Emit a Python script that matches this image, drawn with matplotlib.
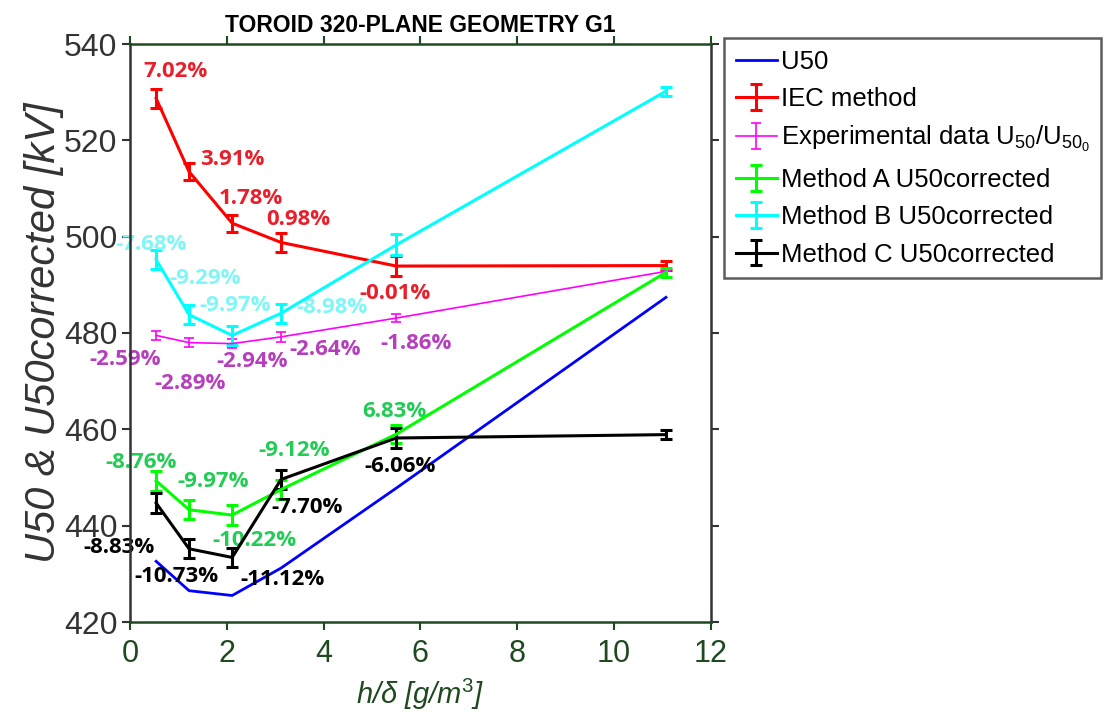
import matplotlib
matplotlib.use("Agg")
import matplotlib.pyplot as plt
from matplotlib import font_manager

# ---------------- data ----------------
x = [0.54, 1.22, 2.11, 3.12, 5.50, 11.07]

u50 = [432.6, 426.5, 425.5, 431.2, 447.8, 487.4]

iec = [528.7, 513.5, 502.8, 498.8, 493.9, 494.0]
iec_err = [2.0, 1.8, 1.8, 2.0, 2.0, 1.0]

exp_data = [479.5, 478.0, 477.8, 479.2, 483.1, 492.8]
exp_err = [1.0, 0.9, 1.0, 1.0, 0.8, 0.0]

meth_a = [449.3, 443.3, 442.2, 447.5, 459.0, 492.6]
meth_a_err = [2.0, 2.0, 2.0, 2.0, 1.8, 0.9]

meth_b = [495.2, 483.8, 479.5, 484.1, 498.3, 530.2]
meth_b_err = [2.0, 2.0, 2.0, 2.0, 2.2, 0.9]

meth_c = [444.7, 435.2, 433.4, 449.6, 458.2, 458.9]
meth_c_err = [2.0, 2.0, 2.0, 2.0, 2.0, 0.9]

iec_labels = ["7.02%", "3.91%", "1.78%", "0.98%", "-0.01%"]
b_labels = ["-7.68%", "-9.29%", "-9.97%", "-8.98%"]
exp_labels = ["-2.59%", "-2.89%", "-2.94%", "-2.64%", "-1.86%"]
a_labels = ["-8.76%", "-9.97%", "-10.22%", "-9.12%", "6.83%"]
c_labels = ["-8.83%", "-10.73%", "-11.12%", "-7.70%", "-6.06%"]

# label anchor positions (data coordinates, text centre)
iec_lpos = [(0.93, 534.2), (2.11, 516.1), (2.50, 508.0), (3.47, 503.5), (5.47, 488.3)]
b_lpos = [(0.43, 498.3), (1.55, 491.4), (2.17, 485.8), (4.17, 485.2)]
exp_lpos = [(-0.10, 474.4), (1.24, 469.6), (2.52, 474.0), (4.03, 476.5), (5.91, 477.9)]
a_lpos = [(0.23, 453.2), (1.71, 449.1), (2.58, 437.0), (3.39, 455.7), (5.47, 463.6)]
c_lpos = [(-0.23, 435.4), (0.95, 429.4), (3.14, 428.9), (3.66, 443.7), (5.58, 452.2)]

xticks = [0, 2, 4, 6, 8, 10, 12]
yticks = [420, 440, 460, 480, 500, 520, 540]

# ---------------- fonts ----------------
avail = {f.name for f in font_manager.fontManager.ttflist}
narrow = "Liberation Sans Narrow" if "Liberation Sans Narrow" in avail else "Liberation Sans"
plt.rcParams["font.family"] = ["Liberation Sans", "DejaVu Sans"]
plt.rcParams["mathtext.fontset"] = "custom"
plt.rcParams["mathtext.rm"] = "Liberation Sans"
plt.rcParams["mathtext.it"] = "Liberation Sans:italic"

GREEN_AX = "#1f4a1f"
GREY_AX = "#333333"

fig = plt.figure(figsize=(11.12, 7.2), dpi=100)
ax = fig.add_axes([130 / 1112, 1 - 622 / 720, (711 - 130) / 1112, (622 - 44) / 720])

lw = 2.2
cap = 4
h_u50, = ax.plot(x, u50, color="#0000ff", lw=2.0, label="U50")
h_iec = ax.errorbar(x, iec, yerr=iec_err, color="#ff0000", lw=lw, elinewidth=2.2,
                    capsize=cap, capthick=2.2, label="IEC method")
h_exp = ax.errorbar(x, exp_data, yerr=exp_err, color="#ff00ff", lw=1.2, elinewidth=1.2,
                    capsize=3.5, capthick=1.2,
                    label=r"Experimental data U$_{50}$/U$_{50_0}$")
h_a = ax.errorbar(x, meth_a, yerr=meth_a_err, color="#00ff00", lw=lw, elinewidth=2.2,
                  capsize=cap, capthick=2.2, label="Method A U50corrected")
h_b = ax.errorbar(x, meth_b, yerr=meth_b_err, color="#00ffff", lw=lw, elinewidth=2.2,
                  capsize=cap, capthick=2.2, label="Method B U50corrected")
h_c = ax.errorbar(x, meth_c, yerr=meth_c_err, color="#000000", lw=lw, elinewidth=2.2,
                  capsize=cap, capthick=2.2, label="Method C U50corrected")

ann_font = dict(family=["Open Sans", "DejaVu Sans"], fontweight="bold", fontsize=16,
                ha="center", va="center", zorder=2, clip_on=False)
for labels, pos, col in [(iec_labels, iec_lpos, "#e8202c"),
                         (b_labels, b_lpos, "#80f6f6"),
                         (exp_labels, exp_lpos, "#b640bc"),
                         (a_labels, a_lpos, "#22cc55"),
                         (c_labels, c_lpos, "#000000")]:
    for t, (px, py) in zip(labels, pos):
        ax.text(px, py, t, color=col, **ann_font)

ax.set_xlim(0, 12)
ax.set_ylim(420, 540)
ax.set_xticks(xticks)
ax.set_yticks(yticks)
ax.set_xticklabels([str(v) for v in xticks], fontfamily=narrow, fontsize=22, color=GREEN_AX)
ax.set_yticklabels([str(v) for v in yticks], fontfamily=narrow, fontsize=23, color=GREY_AX)
ax.tick_params(axis="x", direction="out", length=6, width=1.5, color=GREEN_AX,
               top=True, pad=6)
ax.tick_params(axis="y", direction="out", length=6, width=1.5, color=GREY_AX,
               right=True, pad=3)
for s in ["bottom", "top"]:
    ax.spines[s].set_color(GREEN_AX)
    ax.spines[s].set_linewidth(1.8)
for s in ["left", "right"]:
    ax.spines[s].set_color(GREY_AX)
    ax.spines[s].set_linewidth(1.8)

ax.set_xlabel(r"h/$\delta$ [g/m$^3$]", fontfamily=narrow, fontstyle="italic",
              fontsize=21, color=GREEN_AX, labelpad=6)
ax.set_ylabel("U50 & U50corrected [kV]", fontfamily=narrow, fontstyle="italic",
              fontsize=30, color=GREY_AX, labelpad=0)
ax.set_title("TOROID 320-PLANE GEOMETRY G1", fontfamily=narrow, fontweight="bold",
             fontsize=16.5, color="black", pad=9)

leg = fig.legend(handles=[h_u50, h_iec, h_exp, h_a, h_b, h_c],
                 loc="upper left", bbox_to_anchor=(724 / 1112, 1 - 38 / 720),
                 fontsize=18.5, frameon=True, fancybox=False, borderaxespad=0,
                 handlelength=1.6, handletextpad=0.15, labelspacing=0.52,
                 borderpad=0.45)
leg.get_frame().set_edgecolor(GREY_AX)
leg.get_frame().set_linewidth(1.8)

fig.savefig("out.png", dpi=100)
